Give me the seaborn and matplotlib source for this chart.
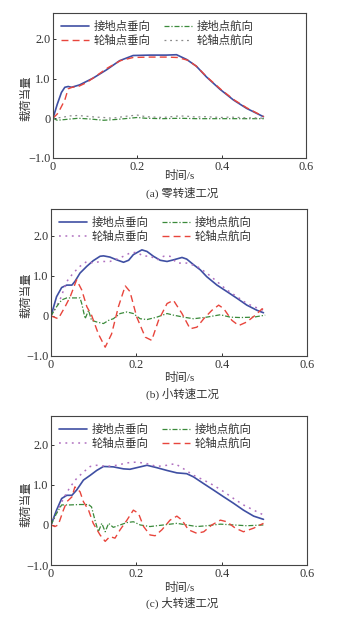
import numpy as np
import pandas as pd
import matplotlib
matplotlib.use("Agg")
import matplotlib.pyplot as plt
import seaborn as sns

sns.set_style("ticks")
plt.rcParams["font.family"] = ["Liberation Serif", "Noto Sans CJK SC"]
plt.rcParams["axes.unicode_minus"] = True

# ---------------- data ----------------
# (a) 零转速工况
a_gv_t = [0, 0.010, 0.020, 0.028, 0.036, 0.044, 0.063, 0.095, 0.127, 0.158, 0.19, 0.23, 0.269, 0.293,
          0.317, 0.34, 0.364, 0.396, 0.428, 0.459, 0.499]
a_gv_v = [0, 0.35, 0.65, 0.78, 0.80, 0.78, 0.84, 1.01, 1.22, 1.45, 1.58, 1.59, 1.59, 1.60,
          1.48, 1.31, 1.04, 0.73, 0.46, 0.25, 0.04]
a_av_t = [0, 0.012, 0.028, 0.036, 0.045, 0.06, 0.08, 0.10, 0.13, 0.16, 0.19, 0.23, 0.27, 0.295,
          0.32, 0.34, 0.365, 0.40, 0.43, 0.46, 0.5]
a_av_v = [0, 0.13, 0.46, 0.74, 0.78, 0.80, 0.90, 1.05, 1.27, 1.45, 1.53, 1.54, 1.54, 1.53,
          1.46, 1.31, 1.04, 0.71, 0.46, 0.26, 0.04]
a_gh_t = [0, 0.01, 0.03, 0.06, 0.09, 0.12, 0.15, 0.18, 0.2, 0.22, 0.26, 0.3, 0.34, 0.4, 0.45, 0.5]
a_gh_v = [0, -0.05, -0.03, 0.0, -0.02, -0.05, -0.03, 0.0, 0.02, 0.0, -0.01, 0.0, -0.01, -0.01, -0.01, -0.01]
a_ah_t = [0, 0.02, 0.04, 0.06, 0.08, 0.10, 0.12, 0.14, 0.16, 0.18, 0.20, 0.22, 0.24, 0.26, 0.28,
          0.30, 0.32, 0.34, 0.36, 0.38, 0.40, 0.42, 0.44, 0.46, 0.48, 0.5]
a_ah_v = [0, 0.02, 0.06, 0.07, 0.05, 0.03, 0.02, 0.0, 0.03, 0.06, 0.08, 0.04, 0.03, 0.02, 0.04,
          0.06, 0.05, 0.03, 0.04, 0.03, 0.02, 0.03, 0.02, 0.01, 0.01, 0.0]

# (b) 小转速工况
b_gv_t = [0, 0.013, 0.025, 0.037, 0.049, 0.056, 0.068, 0.084, 0.099, 0.115, 0.123, 0.138, 0.154,
          0.170, 0.182, 0.193, 0.213, 0.225, 0.240, 0.256, 0.272, 0.287, 0.307, 0.318, 0.334, 0.350,
          0.365, 0.389, 0.412, 0.436, 0.459, 0.483, 0.498]
b_gv_v = [0, 0.48, 0.71, 0.77, 0.77, 0.86, 1.07, 1.24, 1.38, 1.49, 1.50, 1.47, 1.40,
          1.34, 1.39, 1.53, 1.65, 1.61, 1.49, 1.39, 1.36, 1.40, 1.46, 1.42, 1.28, 1.15,
          0.98, 0.77, 0.61, 0.44, 0.27, 0.14, 0.08]
b_av_t = [0, 0.021, 0.037, 0.052, 0.068, 0.084, 0.099, 0.115, 0.138, 0.162, 0.185, 0.201, 0.217,
          0.232, 0.248, 0.264, 0.279, 0.295, 0.318, 0.342, 0.365, 0.389, 0.412, 0.436, 0.459, 0.483, 0.498]
b_av_v = [0, 0.40, 0.86, 1.07, 1.24, 1.36, 1.32, 1.36, 1.36, 1.45, 1.57, 1.59, 1.49,
          1.50, 1.40, 1.49, 1.49, 1.32, 1.32, 1.24, 1.07, 0.86, 0.65, 0.48, 0.31, 0.20, 0.14]
b_gh_t = [0, 0.013, 0.025, 0.037, 0.068, 0.072, 0.080, 0.088, 0.095, 0.107, 0.123, 0.135, 0.146,
          0.162, 0.178, 0.193, 0.209, 0.225, 0.248, 0.272, 0.287, 0.311, 0.334, 0.365, 0.397, 0.42,
          0.444, 0.475, 0.502]
b_gh_v = [0, 0.23, 0.40, 0.45, 0.45, 0.31, -0.07, 0.14, -0.11, -0.15, -0.19, -0.11, -0.07,
          0.06, 0.10, 0.06, -0.07, -0.09, -0.03, 0.06, 0.02, -0.03, -0.07, -0.03, 0.03, -0.03,
          -0.04, -0.03, 0.02]
b_ah_t = [0, 0.017, 0.033, 0.045, 0.060, 0.072, 0.084, 0.095, 0.111, 0.127, 0.142, 0.158, 0.174,
          0.185, 0.201, 0.221, 0.236, 0.252, 0.272, 0.287, 0.307, 0.326, 0.342, 0.358, 0.377, 0.393,
          0.405, 0.424, 0.440, 0.459, 0.479, 0.495, 0.502]
b_ah_v = [0, -0.07, 0.23, 0.48, 0.90, 0.65, 0.23, 0.02, -0.45, -0.78, -0.45, 0.23, 0.75,
          0.61, -0.03, -0.53, -0.61, -0.11, 0.31, 0.39, 0.06, -0.32, -0.28, -0.07, 0.14, 0.27,
          0.18, -0.11, -0.24, -0.15, 0.02, 0.18, 0.10]

# (c) 大转速工况
c_gv_t = [0, 0.013, 0.025, 0.037, 0.049, 0.060, 0.076, 0.092, 0.107, 0.123, 0.146, 0.170, 0.185,
          0.209, 0.225, 0.248, 0.272, 0.295, 0.318, 0.334, 0.358, 0.381, 0.405, 0.428, 0.451, 0.475, 0.498]
c_gv_v = [0, 0.37, 0.66, 0.74, 0.74, 0.87, 1.12, 1.24, 1.36, 1.46, 1.45, 1.40, 1.39,
          1.45, 1.49, 1.43, 1.36, 1.30, 1.28, 1.20, 1.03, 0.87, 0.70, 0.54, 0.37, 0.22, 0.14]
c_av_t = [0, 0.013, 0.029, 0.045, 0.060, 0.076, 0.092, 0.107, 0.131, 0.154, 0.178, 0.201, 0.225,
          0.248, 0.272, 0.291, 0.311, 0.334, 0.358, 0.381, 0.405, 0.428, 0.451, 0.475, 0.498]
c_av_v = [0, 0.29, 0.66, 0.95, 1.16, 1.32, 1.46, 1.49, 1.46, 1.49, 1.55, 1.57, 1.53,
          1.46, 1.49, 1.53, 1.40, 1.24, 1.12, 0.99, 0.83, 0.66, 0.50, 0.37, 0.25]
c_gh_t = [0, 0.013, 0.025, 0.045, 0.068, 0.088, 0.095, 0.103, 0.111, 0.119, 0.127, 0.135, 0.146,
          0.162, 0.178, 0.193, 0.209, 0.232, 0.264, 0.295, 0.318, 0.342, 0.365, 0.397, 0.428, 0.459, 0.498]
c_gh_v = [0, 0.29, 0.50, 0.50, 0.51, 0.51, 0.45, 0.12, -0.17, 0.04, -0.17, 0.04, -0.06,
          0.0, 0.06, 0.08, 0.0, -0.04, 0.0, 0.04, 0.0, -0.04, -0.02, 0.02, 0.0, -0.02, 0.0]
c_ah_t = [0, 0.009, 0.017, 0.029, 0.037, 0.049, 0.056, 0.068, 0.076, 0.088, 0.099, 0.115, 0.127,
          0.138, 0.150, 0.162, 0.178, 0.193, 0.205, 0.217, 0.232, 0.244, 0.26, 0.279, 0.295, 0.307,
          0.322, 0.342, 0.358, 0.377, 0.397, 0.412, 0.432, 0.451, 0.475, 0.498]
c_ah_v = [0, -0.04, 0.0, 0.37, 0.58, 0.70, 0.95, 0.83, 0.58, 0.37, 0.04, -0.25, -0.41,
          -0.29, -0.33, -0.12, 0.12, 0.37, 0.29, -0.04, -0.25, -0.27, -0.12, 0.12, 0.22, 0.12,
          -0.12, -0.21, -0.17, 0.0, 0.12, 0.08, -0.08, -0.17, -0.08, 0.04]

labels = ["接地点垂向", "轮轴点垂向", "接地点航向", "轮轴点航向"]
captions = ["(a) 零转速工况", "(b) 小转速工况", "(c) 大转速工况"]
x_ticks = [0, 0.2, 0.4, 0.6]
x_tick_labels = ["0", "0.2", "0.4", "0.6"]
y_ticks = [-1.0, 0, 1.0, 2.0]
y_tick_labels = ["\u22121.0", "0", "1.0", "2.0"]

BLUE = "#3f4fa3"
RED = "#e8453c"
GREEN = "#3a8a3a"
PURPLE = "#b070c0"
GRAY = "#8a8a8a"
TXT = "#333333"
FS = 8.2

panels = [
    dict(series=[(a_gv_t, a_gv_v, BLUE, "-", 1.2),
                 (a_av_t, a_av_v, RED, (0, (5, 3)), 1.0),
                 (a_gh_t, a_gh_v, GREEN, (0, (4, 1.5, 1, 1.5)), 0.9),
                 (a_ah_t, a_ah_v, GRAY, (0, (1.5, 3)), 0.9)],
         rect=[53, 13, 306, 158], ytop=2.65, xlab_y=175, cap_y=193),
    dict(series=[(b_gv_t, b_gv_v, BLUE, "-", 1.2),
                 (b_av_t, b_av_v, PURPLE, (0, (1.2, 3)), 1.1),
                 (b_gh_t, b_gh_v, GREEN, (0, (4, 1.5, 1, 1.5)), 0.9),
                 (b_ah_t, b_ah_v, RED, (0, (5, 3)), 1.0)],
         rect=[51, 209, 307, 356], ytop=2.67, xlab_y=378, cap_y=394),
    dict(series=[(c_gv_t, c_gv_v, BLUE, "-", 1.2),
                 (c_av_t, c_av_v, PURPLE, (0, (1.2, 3)), 1.1),
                 (c_gh_t, c_gh_v, GREEN, (0, (4, 1.5, 1, 1.5)), 0.9),
                 (c_ah_t, c_ah_v, RED, (0, (5, 3)), 1.0)],
         rect=[51, 416, 307, 565], ytop=2.72, xlab_y=587, cap_y=603),
]

W, H = 347, 630
fig = plt.figure(figsize=(W / 100, H / 100), dpi=100)

for p, cap in zip(panels, captions):
    l, t, r, b = p["rect"]
    ax = fig.add_axes([l / W, 1 - b / H, (r - l) / W, (b - t) / H])
    for (tt, vv, col, ls, lw), lab in zip(p["series"], labels):
        df = pd.DataFrame({"t": tt, "v": vv})
        sns.lineplot(data=df, x="t", y="v", ax=ax, color=col, linestyle=ls,
                     linewidth=lw, label=lab, estimator=None, sort=False)
    ax.set_xlim(0, 0.6)
    ax.set_ylim(-1.0, p["ytop"])
    ax.set_xticks(x_ticks)
    ax.set_xticklabels(x_tick_labels)
    ax.set_yticks(y_ticks)
    ax.set_yticklabels(y_tick_labels)
    ax.tick_params(direction="in", length=2.5, width=0.7, labelsize=8.8,
                   colors=TXT, pad=2)
    for s in ax.spines.values():
        s.set_color("#444444")
        s.set_linewidth(0.8)
    ax.set_xlabel("")
    ax.set_ylabel("载荷当量", fontsize=FS, color=TXT)
    ax.yaxis.set_label_coords((31 - l) / (r - l), 0.41)
    fig.text(((l + r) / 2) / W, 1 - p["xlab_y"] / H, "时间/s", ha="center",
             va="center", fontsize=FS, color=TXT)
    fig.text(((l + r) / 2 + 3) / W, 1 - p["cap_y"] / H, cap, ha="center",
             va="center", fontsize=FS, color=TXT)
    ax.legend(ncol=2, frameon=False, loc="upper left", fontsize=FS,
              handlelength=2.45, columnspacing=1.15, handletextpad=0.45,
              labelspacing=0.25, borderaxespad=0.3, labelcolor=TXT)

fig.savefig("out.png", dpi=100, facecolor="white")
